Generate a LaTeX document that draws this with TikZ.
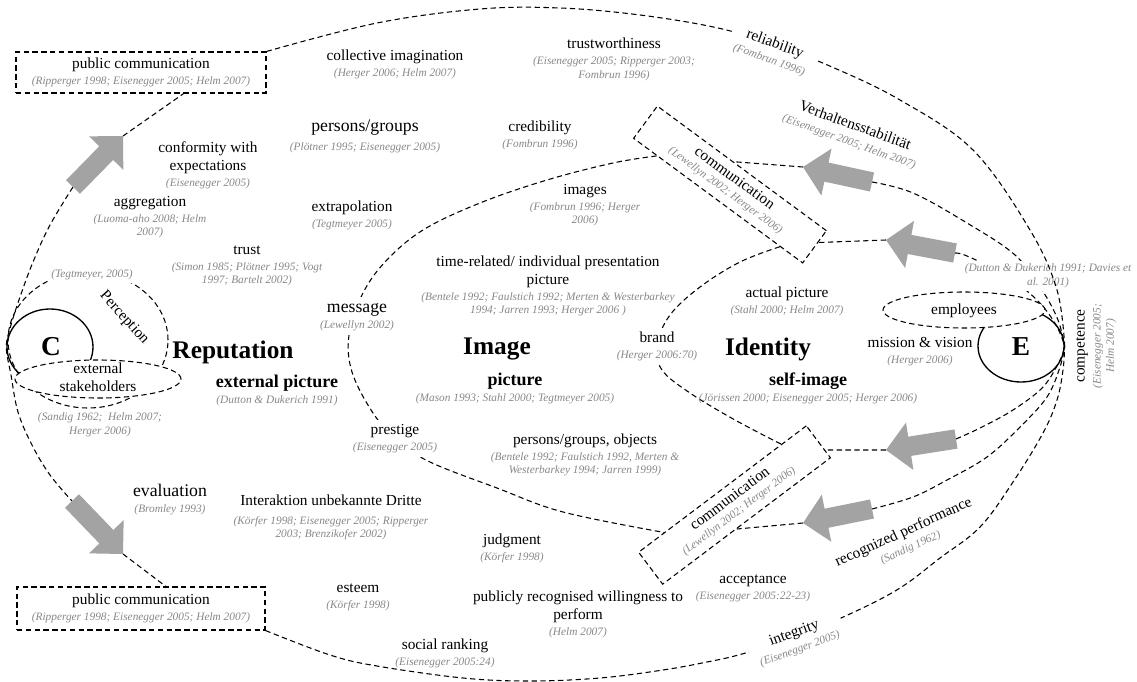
\documentclass[tikz,border=0pt]{standalone}
\usepackage{fontspec}
\setmainfont{Liberation Serif}
\usetikzlibrary{calc,shapes.geometric}

\definecolor{refgray}{RGB}{135,135,135}
\definecolor{arrowgray}{RGB}{163,163,163}

\newcommand\lblfont{\fontsize{11.5}{13.5}\selectfont}
\newcommand\lblbigfont{\fontsize{13.3}{15}\selectfont}
\newcommand\subfont{\fontsize{13.5}{15}\selectfont\bfseries}
\newcommand\headfont{\fontsize{19}{21}\selectfont\bfseries}
\newcommand\letterfont{\fontsize{20.5}{22}\selectfont\bfseries}
\newcommand\refsfont{\fontsize{8.5}{10}\selectfont\mdseries\itshape\color{refgray}}
\newcommand\refs[1]{{\refsfont\begin{tabular}[t]{@{}c@{}}#1\end{tabular}}}
\newcommand\labcite[3][-1.5pt]{\begin{tabular}[t]{@{}c@{}}#2\\[#1]\refs{#3}\end{tabular}}

% gray block arrow named #1 from tail #2 to tip #3
\newcommand\blockarrow[3]{%
  \coordinate (#1-neck) at ($(#3)!18pt!(#2)$);
  \fill[arrowgray] ($(#2)!7.3pt!90:(#3)$) -- ($(#1-neck)!7.3pt!90:(#3)$)
    -- ($(#1-neck)!18pt!90:(#3)$) -- (#3) -- ($(#1-neck)!18pt!-90:(#3)$)
    -- ($(#1-neck)!7.3pt!-90:(#3)$) -- ($(#2)!7.3pt!-90:(#3)$) -- cycle;}

\begin{document}
\begin{tikzpicture}[x=0.75pt, y=-0.75pt,
  dline/.style={dash pattern=on 4pt off 2.6pt, line width=0.8pt},
  dbox/.style={draw, dline, inner sep=0pt, font=\lblfont},
  oval/.style={ellipse, draw, inner sep=0pt},
  lbl/.style={font=\lblfont, inner sep=1pt, anchor=base, yshift=-3pt},
  rlbl/.style={font=\lblfont, inner sep=1pt},
  refonly/.style={inner sep=1pt, anchor=base, yshift=-2.2pt},
  head/.style={font=\headfont, inner sep=0pt, anchor=base},
  mask/.style={fill=white},
  link/.style={dline, smooth, tension=0.6}]
\useasboundingbox (0,0) rectangle (1137,681);

% ---- arrow end points
\coordinate (a1-tail) at (73,187);  \coordinate (a1-tip) at (123,136);
\coordinate (a2-tail) at (72,501);  \coordinate (a2-tip) at (123,554);
\coordinate (r1-tail) at (872,182); \coordinate (r1-tip) at (803,167);
\coordinate (r2-tail) at (955,253); \coordinate (r2-tip) at (886,240);
\coordinate (r3-tail) at (956,439); \coordinate (r3-tip) at (886,450);
\coordinate (r4-tail) at (872,509); \coordinate (r4-tip) at (803,523);

% ---- dashed boxes
\node[dbox, minimum width=187.5pt, minimum height=30.75pt] (pcTop) at (141,72.5)
  {\labcite{public communication}{(Ripperger 1998; Eisenegger 2005; Helm 2007)}};
\node[dbox, minimum width=186pt, minimum height=32.25pt] (pcBot) at (141,608.5)
  {\labcite{public communication}{(Ripperger 1998; Eisenegger 2005; Helm 2007)}};
\node[dbox, minimum width=157.5pt, minimum height=30pt, rotate=-36.4] (ucomm) at (730,184.5)
  {\labcite[-3pt]{communication}{(Lewellyn 2002; Herger 2006)}};
\node[dbox, minimum width=157.5pt, minimum height=30pt, rotate=37] (lcomm) at (734.5,505)
  {\labcite[-3pt]{communication}{(Lewellyn 2002; Herger 2006)}};

% ---- C and E
\node[oval, dline, minimum width=120pt, minimum height=102pt] (percep) at (88,340) {};
\node[oval, line width=1pt, minimum width=64.5pt, minimum height=57pt] (C) at (50,347) {};
\node[oval, line width=1pt, minimum width=64.5pt, minimum height=54pt] (E) at (1021,346) {};

% ---- points where the links meet the communication boxes
\coordinate (ub-img) at ($(ucomm.south west)!0.14!(ucomm.south east)$);
\coordinate (ub-idn) at ($(ucomm.south west)!0.865!(ucomm.south east)$);
\coordinate (ub-r1)  at ($(ucomm.north west)!0.45!(ucomm.north east)$);
\coordinate (ub-r2)  at ($(ucomm.north east)!0.36!(ucomm.south east)$);
\coordinate (lb-img) at ($(lcomm.north west)!0.155!(lcomm.north east)$);
\coordinate (lb-idn) at ($(lcomm.north west)!0.85!(lcomm.north east)$);
\coordinate (lb-r3)  at ($(lcomm.north east)!0.76!(lcomm.south east)$);
\coordinate (lb-r4)  at ($(lcomm.south west)!0.44!(lcomm.south east)$);
\coordinate (pcTop-b) at ($(pcTop.south west)!0.67!(pcTop.south east)$);
\coordinate (pcBot-t) at ($(pcBot.north west)!0.6!(pcBot.north east)$);

% ---- Image and Identity rings
\draw[link] plot coordinates {(ub-img) (613,163) (547,180) (480,203) (423,230) (385,262)
  (362,295) (349,335) (352,372) (373,413) (397,440) (430,462) (497,488) (563,512) (lb-img)};
\draw[link] plot coordinates {(ub-idn) (740,262) (700,287) (670,315) (657,345) (662,370)
  (690,393) (735,420) (lb-idn)};

% ---- left side of the reputation ring
\draw[dline] (a1-tip) -- (pcTop-b);
\draw[dline] (a2-tip) -- (pcBot-t);
\draw[link] plot coordinates {(a1-tail) (50,225) (33,262) (20,297) (11,325) (C.west)
  (11,375) (18,412) (32,445) (50,475) (a2-tail)};

% ---- links from E
\draw[dline] (r1-tip) -- (ub-r1);
\draw[dline] (r2-tip) -- (ub-r2);
\draw[dline] (r3-tip) -- (lb-r3);
\draw[dline] (r4-tip) -- (lb-r4);
\draw[link] plot coordinates {(r1-tail) (913,193) (967,223) (1015,255) (1042,290) (1058,320) (E.east)};
\draw[link] plot coordinates {(r2-tail) (967,256) (1005,275) (1037,300) (1056,325) (E.east)};
\draw[link] plot coordinates {(r3-tail) (980,428) (1013,410) (1043,387) (1060,360) (E.east)};
\draw[link] plot coordinates {(r4-tail) (913,497) (947,480) (987,457) (1020,427) (1047,397) (1060,367) (E.east)};
\draw[link] plot coordinates {(pcBot.south east) (330,655) (377,666) (463,678) (530,681)
  (600,678) (663,670) (707,662) (742,654) (795,637) (852,613) (900,588) (940,558)
  (980,527) (1013,482) (1043,433) (1057,400) (1063,370) (E.east)};

\node[refonly, mask] (t-dutton) at (1048,269) {\refs{(Dutton \& Dukerich 1991; Davies et\\al. 2001)}};

\draw[link] plot coordinates {(pcTop.north east) (377,23) (480,9) (560,8) (640,15) (718,28)
  (775,45) (832,67) (900,100) (973,150) (1030,230) (1057,290) (E.east)};

% ---- stakeholder ovals
\node[oval, dline, fill=white, minimum width=124.5pt, minimum height=28.5pt] (stake) at (98,379) {};
\node[oval, dline, fill=white, minimum width=121.5pt, minimum height=27pt] (empl) at (964,310) {};
\node[rlbl] (t-stake) at (98,379) {\begin{tabular}{@{}c@{}}external\\stakeholders\end{tabular}};
\node[rlbl] (t-empl) at (964,311) {employees};

% ---- block arrows
\blockarrow{a1}{a1-tail}{a1-tip}
\blockarrow{a2}{a2-tail}{a2-tip}
\blockarrow{r1}{r1-tail}{r1-tip}
\blockarrow{r2}{r2-tail}{r2-tip}
\blockarrow{r3}{r3-tail}{r3-tip}
\blockarrow{r4}{r4-tail}{r4-tip}

% ---- headings
\node[head, font=\letterfont] (t-C) at (51,355) {C};
\node[head, font=\letterfont] (t-E) at (1021,355) {E};
\node[head] (t-reputation) at (233,358) {Reputation};
\node[head] (t-image) at (497,354) {Image};
\node[head] (t-identity) at (768,355) {Identity};

% ---- labels
\node[lbl] (t-collective) at (395,57) {\labcite{collective imagination}{(Herger 2006; Helm 2007)}};
\node[lbl] (t-trustw) at (614,45) {\labcite{trustworthiness}{(Eisenegger 2005; Ripperger 2003;\\Fombrun 1996)}};
\node[rlbl, mask, inner sep=5pt, rotate=-20] (t-reliab) at (772,52) {\labcite{reliability}{(Fombrun 1996)}};
\node[lbl] (t-conform) at (208,148) {\labcite{conformity with\\expectations}{(Eisenegger 2005)}};
\node[lbl, font=\lblbigfont] (t-persons) at (365,128) {\labcite[-1pt]{persons/groups}{(Plötner 1995; Eisenegger 2005)}};
\node[lbl] (t-cred) at (540,128) {\labcite{credibility}{(Fombrun 1996)}};
\node[rlbl, rotate=-20] (t-verh) at (852,134) {\labcite{Verhaltensstabilität}{(Eisenegger 2005; Helm 2007)}};
\node[lbl] (t-aggr) at (150,202) {\labcite{aggregation}{(Luoma-aho 2008; Helm\\2007)}};
\node[lbl] (t-extra) at (352,207) {\labcite{extrapolation}{(Tegtmeyer 2005)}};
\node[lbl] (t-images) at (585,190) {\labcite{images}{(Fombrun 1996; Herger\\2006)}};
\node[lbl] (t-trust) at (247,250) {\labcite{trust}{(Simon 1985; Plötner 1995; Vogt\\1997; Bartelt 2002)}};
\node[lbl] (t-timerel) at (548,262) {\labcite{time-related/ individual presentation\\picture}{(Bentele 1992; Faulstich 1992; Merten \& Westerbarkey\\1994; Jarren 1993; Herger 2006 )}};
\node[refonly, mask] (t-tegt) at (92,275) {\refs{(Tegtmeyer, 2005)}};
\node[rlbl, rotate=-48] (t-percep) at (124,318) {Perception};
\node[lbl, mask, font=\lblbigfont] (t-message) at (357,308) {\labcite[-3pt]{message}{(Lewellyn 2002)}};
\node[lbl] (t-actual) at (787,293) {\labcite{actual picture}{(Stahl 2000; Helm 2007)}};
\node[lbl, mask] (t-brand) at (657,338) {\labcite{brand}{(Herger 2006:70)}};
\node[lbl] (t-mission) at (920,343) {\labcite{mission \& vision}{(Herger 2006)}};
\node[rlbl, rotate=90] (t-compet) at (1095,346) {\labcite{competence}{(Eisenegger 2005;\\Helm 2007)}};
\node[lbl, font=\subfont] (t-extpic) at (277,383) {\labcite[-2.5pt]{external picture}{(Dutton \& Dukerich 1991)}};
\node[lbl, font=\subfont] (t-picture) at (515,381) {\labcite[-2.5pt]{picture}{(Mason 1993; Stahl 2000; Tegtmeyer 2005)}};
\node[lbl, font=\subfont] (t-selfimg) at (808,381) {\labcite[-2.5pt]{self-image}{(Jörissen 2000; Eisenegger 2005; Herger 2006)}};
\node[refonly, mask] (t-sandig) at (100,418) {\refs{(Sandig 1962; \ Helm 2007;\\Herger 2006)}};
\node[lbl, mask] (t-prestige) at (395,430) {\labcite{prestige}{(Eisenegger 2005)}};
\node[lbl] (t-pgo) at (585,440) {\labcite{persons/groups, objects}{(Bentele 1992; Faulstich 1992, Merten \&\\Westerbarkey 1994; Jarren 1999)}};
\node[lbl, font=\lblbigfont] (t-eval) at (170,492) {\labcite[-3pt]{evaluation}{(Bromley 1993)}};
\node[lbl] (t-interakt) at (331,501) {\labcite[1pt]{Interaktion unbekannte Dritte}{(Körfer 1998; Eisenegger 2005; Ripperger\\2003; Brenzikofer 2002)}};
\node[lbl] (t-judg) at (512,540) {\labcite{judgment}{(Körfer 1998)}};
\node[lbl] (t-esteem) at (358,588) {\labcite{esteem}{(Körfer 1998)}};
\node[lbl] (t-publicly) at (578,597) {\labcite{publicly recognised willingness to\\perform}{(Helm 2007)}};
\node[lbl] (t-social) at (445,645) {\labcite{social ranking}{(Eisenegger 2005:24)}};
\node[lbl] (t-accept) at (753,579) {\labcite{acceptance}{(Eisenegger 2005:22-23)}};
\node[rlbl, rotate=24.5] (t-recog) at (907,540) {\labcite{recognized performance}{(Sandig 1962)}};
\node[rlbl, mask, inner sep=5pt, rotate=20] (t-integ) at (797,641) {\labcite{integrity}{(Eisenegger 2005)}};
\end{tikzpicture}
\end{document}
